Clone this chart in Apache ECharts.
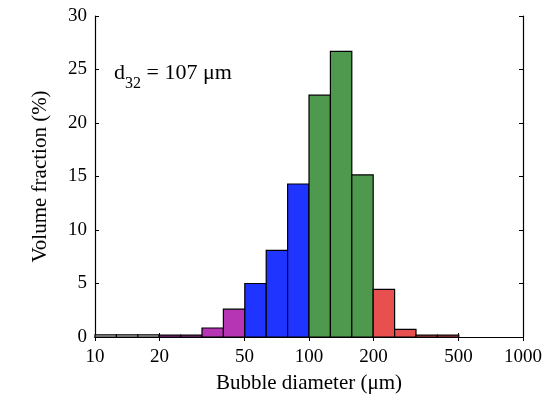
<!DOCTYPE html>
<html><head><meta charset="utf-8">
<script src="https://cdn.jsdelivr.net/npm/echarts@6/dist/echarts.min.js"></script>
<style>html,body{margin:0;padding:0;background:#fff}#c{width:555px;height:401px}</style>
</head><body><div id="c"></div>
<script>
// Bin edges (μm), log-spaced 0.1 decade
var binEdges = [10, 12.59, 15.85, 19.95, 25.12, 31.62, 39.81, 50.12, 63.10, 79.43, 100, 125.9, 158.5, 199.5, 251.2, 316.2, 398.1, 501.2, 631.0, 794.3, 1000];
// Volume fraction (%) per bin
var volumeFraction = [0.2, 0.2, 0.2, 0.18, 0.18, 0.84, 2.6, 5.0, 8.1, 14.3, 22.6, 26.7, 15.15, 4.45, 0.72, 0.18, 0.18, 0, 0, 0];
// Group per bin: 0 gray, 1 purple, 2 blue, 3 green, 4 red
var binGroup = [0, 0, 0, 1, 1, 1, 1, 2, 2, 2, 3, 3, 3, 4, 4, 4, 4, 0, 0, 0];
var groupColors = ['#e0e0e0', '#b535b5', '#1f35ff', '#4e994e', '#e8504f'];
var xTickValues = [10, 20, 50, 100, 200, 500, 1000];

var data = volumeFraction.map(function (v, i) {
  return [binEdges[i], binEdges[i + 1], v, binGroup[i]];
});

var font = 'Liberation Serif';
var chart = echarts.init(document.getElementById('c'));
var axisLine = { show: true, lineStyle: { color: '#000', width: 1.2 } };
chart.setOption({
  animation: false,
  grid: { left: 95, right: 32, top: 16, bottom: 64 },
  xAxis: [{
    type: 'log', logBase: 10, min: 10, max: 1000,
    axisLine: axisLine,
    axisTick: { show: true, inside: true, length: 4, customValues: xTickValues, lineStyle: { color: '#000' } },
    axisLabel: { customValues: xTickValues, color: '#000', fontFamily: font, fontSize: 19, margin: 11,
      formatter: function (v) { return String(Math.round(v)); } },
    minorTick: { show: false },
    splitLine: { show: false },
    name: 'Bubble diameter (\u03bcm)', nameLocation: 'middle', nameGap: 36,
    nameTextStyle: { color: '#000', fontFamily: font, fontSize: 21 }
  }, {
    type: 'log', logBase: 10, min: 10, max: 1000, position: 'top',
    axisLine: axisLine,
    axisTick: { show: true, inside: true, length: 4, customValues: xTickValues, lineStyle: { color: '#000' } },
    axisLabel: { show: false }, splitLine: { show: false }
  }],
  yAxis: [{
    type: 'value', min: 0, max: 30, interval: 5,
    axisLine: axisLine,
    axisTick: { show: true, inside: true, length: 4, lineStyle: { color: '#000' } },
    axisLabel: { color: '#000', fontFamily: font, fontSize: 19, margin: 8 },
    splitLine: { show: false },
    name: 'Volume fraction (%)', nameLocation: 'middle', nameGap: 44,
    nameTextStyle: { color: '#000', fontFamily: font, fontSize: 21 }
  }, {
    type: 'value', min: 0, max: 30, interval: 5, position: 'right',
    axisLine: axisLine,
    axisTick: { show: true, inside: true, length: 4, lineStyle: { color: '#000' } },
    axisLabel: { show: false }, splitLine: { show: false }
  }],
  graphic: [{
    type: 'text', left: 114, top: 59,
    style: {
      text: '{a|d}{b|32}{a| = 107 \u03bcm}',
      rich: {
        a: { fontFamily: font, fontSize: 22, fill: '#000', verticalAlign: 'top', lineHeight: 27 },
        b: { fontFamily: font, fontSize: 16, fill: '#000', padding: [17, 0, 0, 0], lineHeight: 27 }
      }
    }
  }],
  series: [{
    type: 'custom',
    xAxisIndex: 0, yAxisIndex: 0,
    data: data,
    renderItem: function (params, api) {
      var p0 = api.coord([api.value(0), api.value(2)]);
      var p1 = api.coord([api.value(1), 0]);
      var h = p1[1] - p0[1];
      if (h <= 0) return null;
      return {
        type: 'rect',
        shape: { x: p0[0], y: p0[1], width: p1[0] - p0[0], height: h },
        style: { fill: groupColors[api.value(3)], stroke: '#000', lineWidth: 1.2 }
      };
    }
  }]
});
</script></body></html>
